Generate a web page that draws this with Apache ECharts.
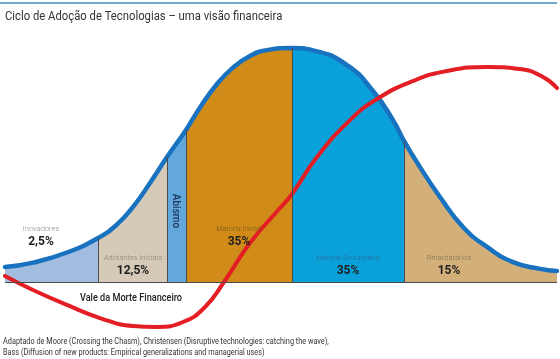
<!DOCTYPE html>
<html>
<head>
<meta charset="utf-8">
<script src="https://cdn.jsdelivr.net/npm/echarts@6/dist/echarts.min.js"></script>
<style>html,body{margin:0;padding:0;background:#fff}#c{width:560px;height:359px}</style>
</head>
<body>
<div id="c"></div>
<script>
// Adoption bell curve (x: progression 0-100, y: relative adoption 0-100)
const bellX = [0, 5.07, 11.23, 16.85, 20.29, 23.19, 26.27, 29.35, 32.79, 35.33, 38.41, 41.30, 44.38, 47.46, 51.99, 55.80, 61.96, 66.67, 70.29, 72.28, 75.18, 78.80, 82.97, 87.32, 92.03, 96.92, 100];
const bellY = [6.4, 8.3, 12.6, 18.8, 24.6, 32.1, 42.3, 53.4, 65.0, 74.6, 84.6, 91.6, 96.6, 99.1, 100.0, 99.0, 92.7, 81.6, 69.2, 60.3, 49.1, 36.3, 23.5, 15.0, 8.5, 5.6, 4.7];
// Financial curve
const finX = [0, 5.07, 11.23, 17.21, 23.19, 27.54, 32.25, 36.23, 39.67, 44.38, 49.82, 51.99, 56.52, 62.5, 67.39, 73.91, 80.07, 87.32, 93.30, 97.46, 100];
const finY = [2.6, -3.4, -9.8, -15.4, -18.8, -19.2, -17.1, -10.7, 0, 16.7, 31.6, 37.6, 53.4, 69.2, 78.2, 85.9, 90.2, 91.9, 91.0, 87.6, 82.9];
// Segments
const segNames = ['Inovadores', 'Adotantes Iniciais', 'Abismo', 'Maioria Inicial', 'Maioria Secundária', 'Retardatários'];
const segShares = ['2,5%', '12,5%', '', '35%', '35%', '15%'];
const segBounds = [0, 16.85, 29.35, 32.79, 51.99, 72.28, 100];
const segColors = ['#a2bde0', '#d4cab7', '#62a8dc', '#d08b19', '#0aa0d9', '#d3b07a'];

const bellData = bellX.map((x, i) => [x, bellY[i]]);
const finData = finX.map((x, i) => [x, finY[i]]);
const SM = 0.5;

const series = [];
segNames.forEach((n, k) => {
  const lo = segBounds[k], hi = segBounds[k + 1];
  series.push({
    type: 'line', name: n, smooth: SM, showSymbol: false, silent: true,
    data: bellData.filter(p => p[0] >= lo - 1e-6 && p[0] <= hi + 1e-6),
    lineStyle: { width: 0 },
    areaStyle: { color: segColors[k], opacity: 1 },
    z: 1
  });
});
// dividers
const dividerLines = [];
for (let k = 1; k < segBounds.length - 1; k++) {
  const idx = bellX.indexOf(segBounds[k]);
  dividerLines.push([{ coord: [segBounds[k], 0] }, { coord: [segBounds[k], bellY[idx]] }]);
}
dividerLines.push([{ coord: [0, 0] }, { coord: [100, 0] }]);
series.push({
  type: 'line', data: [], silent: true,
  markLine: { silent: true, symbol: 'none', label: { show: false },
    lineStyle: { color: '#4b4b4b', width: 1, type: 'solid' }, data: dividerLines },
  z: 2
});
series.push({
  type: 'line', name: 'bell', smooth: SM, showSymbol: false, silent: true,
  data: bellData, lineStyle: { color: '#1872bf', width: 4.5, cap: 'round' }, z: 3
});
series.push({
  type: 'line', name: 'fin', smooth: SM, showSymbol: false, silent: true,
  data: finData, lineStyle: { color: '#e31e24', width: 4, cap: 'round' }, z: 4
});

const chart = echarts.init(document.getElementById('c'), null, { renderer: 'canvas' });
const lbl = (x, y, text, size, color, weight) => ({
  type: 'text', x: x, y: y, silent: true, z: 100,
  style: { text: text, fontSize: size, fill: color, fontWeight: weight || 'normal',
    fontFamily: 'Roboto', align: 'center', verticalAlign: 'middle' }
});
const labelPos = [[41, 229], [133, 258], [175, 211], [239, 229], [348, 258], [449, 258]];
const nameColors = ['#8c8c8c', '#8a8275', '#1d3557', '#7a5518', '#2b6a98', '#85704f'];
const vale = lbl(131, 298, 'Vale da Morte Financeiro', 10.5, '#222', 500);
vale.scaleX = 0.87;
const graphics = [
  { type: 'line', z: 100, shape: { x1: 0, y1: 3, x2: 557, y2: 3 }, style: { stroke: '#3f8fbf', lineWidth: 1.5 }, silent: true },
  { type: 'text', x: 5, y: 17, z: 100, scaleX: 0.94, silent: true,
    style: { text: 'Ciclo de Adoção de Tecnologias – uma visão financeira', fontSize: 12, fill: '#333',
      fontFamily: 'Roboto', verticalAlign: 'middle' } },
  vale,
  { type: 'text', x: 3, y: 342, z: 100, scaleX: 0.77, silent: true,
    style: { text: 'Adaptado de Moore (Crossing the Chasm), Christensen (Disruptive technologies: catching the wave),', fontSize: 9.5, fill: '#333',
      fontFamily: 'Roboto', verticalAlign: 'middle' } },
  { type: 'text', x: 3, y: 353, z: 100, scaleX: 0.77, silent: true,
    style: { text: 'Bass (Diffusion of new products: Empirical generalizations and managerial uses)', fontSize: 9.5, fill: '#333',
      fontFamily: 'Roboto', verticalAlign: 'middle' } }
];
segNames.forEach((n, k) => {
  if (k === 2) {
    const t = lbl(labelPos[k][0], labelPos[k][1], n, 10, nameColors[k], 500);
    t.rotation = -Math.PI / 2;
    graphics.push(t);
  } else {
    graphics.push(lbl(labelPos[k][0], labelPos[k][1], n, 7.5, nameColors[k], 300));
    graphics.push(lbl(labelPos[k][0], labelPos[k][1] + 12.5, segShares[k], 12, '#1e1e1e', 'bold'));
  }
});

chart.setOption({
  animation: false,
  grid: { left: 5, width: 552, top: 24.6, height: 315.9 },
  xAxis: { type: 'value', min: 0, max: 100, show: false },
  yAxis: { type: 'value', min: -25, max: 110, show: false },
  series: series,
  graphic: graphics
});
</script>
</body>
</html>
